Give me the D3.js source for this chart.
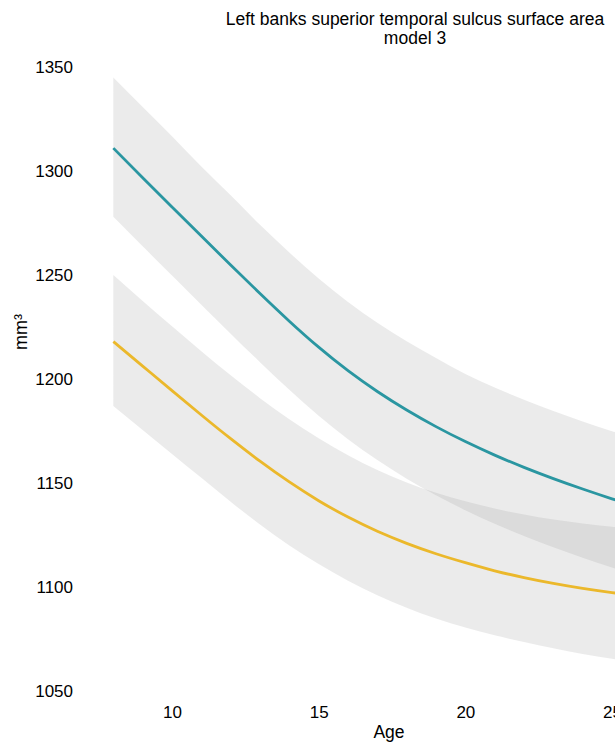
<!DOCTYPE html>
<html>
<head>
<meta charset="utf-8">
<script src="https://cdn.jsdelivr.net/npm/d3@7"></script>
<style>
  html, body { margin: 0; padding: 0; background: #fff; }
  svg { display: block; font-family: "Liberation Sans", Arial, Helvetica, sans-serif; }
</style>
</head>
<body>
<svg id="chart" width="615" height="749"></svg>
<script>
// Age grid of the fitted trajectories (years)
const ages = [8, 9, 10, 11, 12, 13, 14, 15, 16, 17, 18, 19, 20, 21, 22, 23, 24, 25, 26];

// Group A (teal): fitted mean and confidence band, mm³
const tealMean  = [1311, 1296.8, 1282.7, 1268.7, 1254.8, 1241.1, 1227.8, 1215.3, 1204.0, 1194.0, 1185.1, 1177.1, 1169.9, 1163.4, 1157.5, 1152.1, 1147.1, 1142.4, 1138.0];
const tealUpper = [1345, 1330.8, 1316.7, 1302.2, 1288.3, 1274.1, 1260.8, 1248.3, 1237.0, 1227.0, 1218.1, 1210.1, 1202.4, 1195.9, 1190.0, 1184.6, 1179.6, 1174.9, 1171.0];
const tealLower = [1278, 1263.8, 1249.7, 1235.7, 1221.8, 1208.1, 1194.8, 1182.3, 1171.0, 1161.0, 1152.1, 1144.1, 1136.9, 1130.4, 1124.5, 1119.1, 1114.1, 1109.4, 1105.0];

// Group B (gold): fitted mean and confidence band, mm³
const goldMean  = [1218, 1206.2, 1194.4, 1182.7, 1171.3, 1160.5, 1150.5, 1141.5, 1133.6, 1126.8, 1121.0, 1116.0, 1111.7, 1107.8, 1104.5, 1101.7, 1099.3, 1097.3, 1095.6];
const goldUpper = [1250, 1237.5, 1225.4, 1213.4, 1201.8, 1190.8, 1180.6, 1171.5, 1163.3, 1156.2, 1150.3, 1145.3, 1141.2, 1137.7, 1134.8, 1132.4, 1130.5, 1129.0, 1128.0];
const goldLower = [1187, 1175.5, 1164.0, 1152.5, 1141.0, 1130.0, 1120.0, 1111.0, 1103.0, 1096.0, 1090.0, 1084.8, 1080.5, 1076.8, 1073.5, 1070.5, 1067.8, 1065.5, 1063.5];

// Axis ticks
const xTicks = [10, 15, 20, 25];
const yTicks = [1050, 1100, 1150, 1200, 1250, 1300, 1350];

const titleLines = ["Left banks superior temporal sulcus surface area", "model 3"];
const xLabel = "Age";
const yLabel = "mm³";

const svg = d3.select("#chart");

const x = d3.scaleLinear().domain([10, 25]).range([172, 612]);
const y = d3.scaleLinear().domain([1050, 1350]).range([691, 67]);

const series = [
  { mean: tealMean, lo: tealLower, hi: tealUpper, color: "#2a96a1" },
  { mean: goldMean, lo: goldLower, hi: goldUpper, color: "#ebb82b" }
];

const area = d3.area()
  .x(d => x(d.age))
  .y0(d => y(d.lo))
  .y1(d => y(d.hi))
  .curve(d3.curveNatural);

const line = d3.line()
  .x(d => x(d.age))
  .y(d => y(d.v))
  .curve(d3.curveNatural);

const rows = s => ages.map((a, i) => ({ age: a, v: s.mean[i], lo: s.lo[i], hi: s.hi[i] }));

// Confidence ribbons (translucent, so the overlap darkens)
svg.append("g").selectAll("path")
  .data(series)
  .join("path")
  .attr("d", s => area(rows(s)))
  .attr("fill", "#999999")
  .attr("fill-opacity", 0.2);

// Fitted trajectories
svg.append("g").selectAll("path")
  .data(series)
  .join("path")
  .attr("d", s => line(rows(s)))
  .attr("fill", "none")
  .attr("stroke", s => s.color)
  .attr("stroke-width", 2.8);

// Y axis: labels only
const yAxis = svg.append("g")
  .attr("transform", "translate(73,0)")
  .call(d3.axisLeft(y).tickValues(yTicks).tickSize(0).tickPadding(0).tickFormat(d3.format("d")));
yAxis.select(".domain").remove();
yAxis.selectAll("text").attr("font-size", 17).attr("fill", "#000").attr("font-family", null);

// X axis: labels only
const xAxis = svg.append("g")
  .attr("transform", "translate(0,706)")
  .call(d3.axisBottom(x).tickValues(xTicks).tickSize(0).tickPadding(0).tickFormat(d3.format("d")));
xAxis.select(".domain").remove();
xAxis.selectAll("text").attr("font-size", 17).attr("fill", "#000").attr("font-family", null);

// Axis titles
svg.append("text")
  .attr("x", 389).attr("y", 738)
  .attr("text-anchor", "middle")
  .attr("font-size", 17.5)
  .text(xLabel);

svg.append("text")
  .attr("transform", "translate(27,332) rotate(-90)")
  .attr("text-anchor", "middle")
  .attr("font-size", 18)
  .text(yLabel);

// Title (two lines)
svg.append("g").selectAll("text")
  .data(titleLines)
  .join("text")
  .attr("x", 415)
  .attr("y", (d, i) => 25 + i * 18.5)
  .attr("text-anchor", "middle")
  .attr("font-size", 17.5)
  .text(d => d);
</script>
</body>
</html>
